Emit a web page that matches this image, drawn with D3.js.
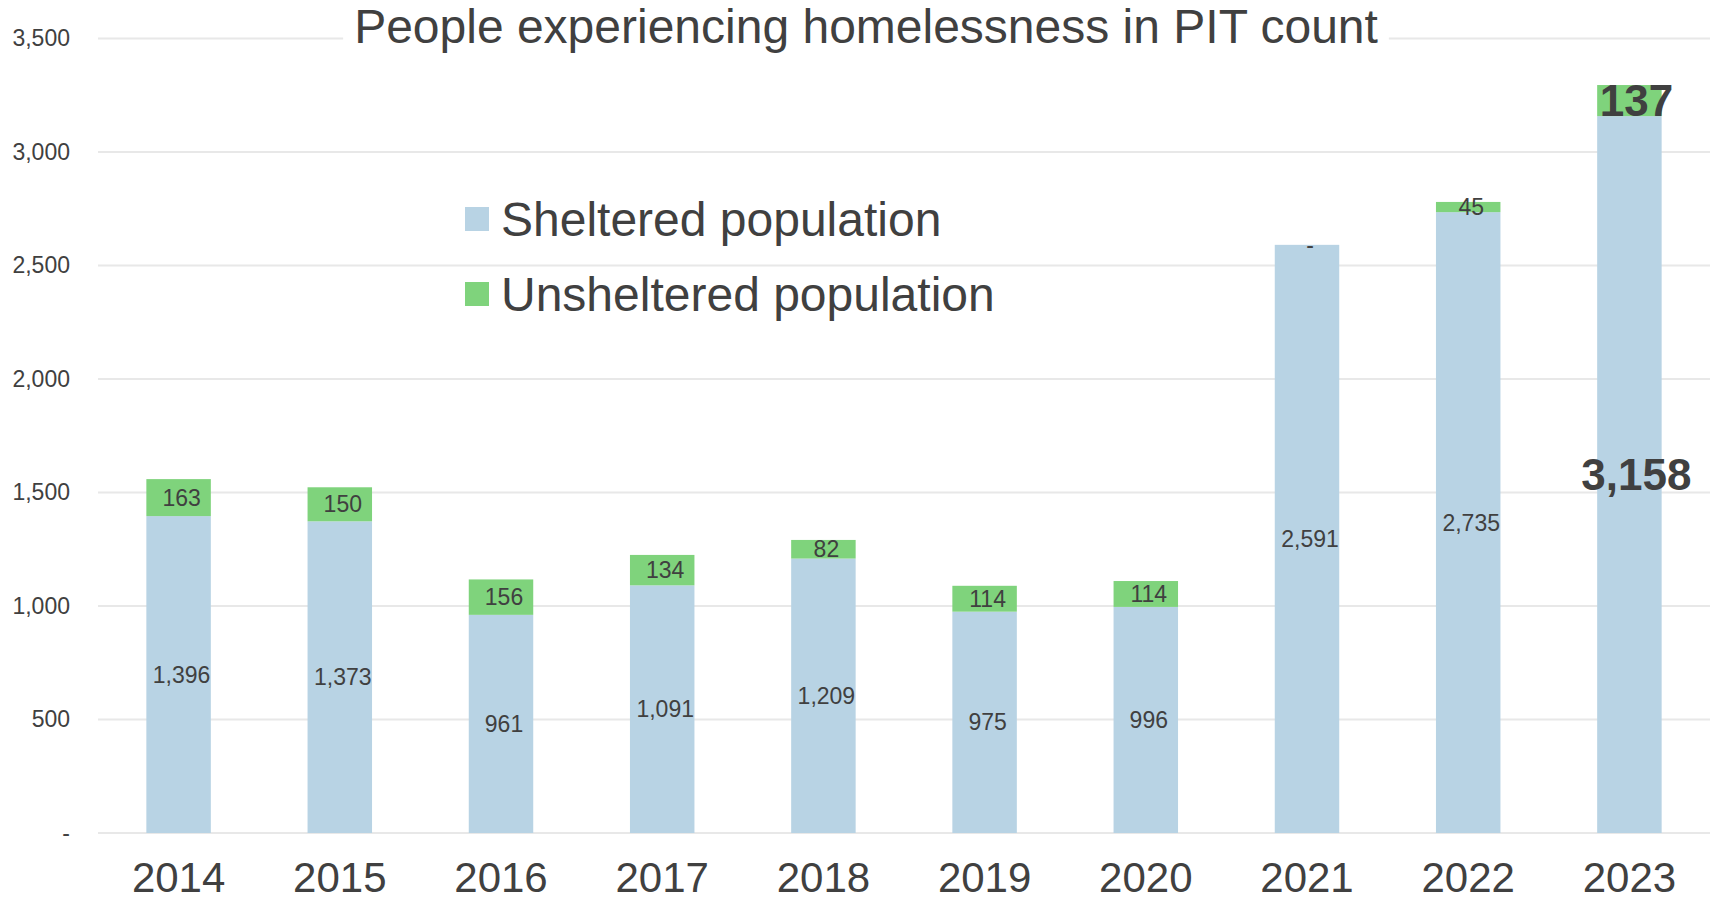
<!DOCTYPE html>
<html>
<head>
<meta charset="utf-8">
<script src="https://cdn.jsdelivr.net/npm/d3@7"></script>
<style>
  html, body { margin: 0; padding: 0; background: #fff; }
  svg { display: block; font-family: "Liberation Sans", Arial, sans-serif; }
</style>
</head>
<body>
<svg id="chart" width="1715" height="901"></svg>
<script>
const years = ["2014","2015","2016","2017","2018","2019","2020","2021","2022","2023"];
const sheltered = [1396, 1373, 961, 1091, 1209, 975, 996, 2591, 2735, 3158];
const unsheltered = [163, 150, 156, 134, 82, 114, 114, 0, 45, 137];
const yTicks = [0, 500, 1000, 1500, 2000, 2500, 3000, 3500];
const seriesNames = ["Sheltered population", "Unsheltered population"];
const title = "People experiencing homelessness in PIT count";

(function () {
const colors = ["#b8d3e4", "#7fd37c"];
const textColor = "#404040";

const svg = d3.select("#chart");
const mLeft = 98, mRight = 1710, mTop = 38.5, mBottom = 833;

const x = d3.scaleBand().domain(years).range([mLeft, mRight]).paddingInner(0.6).paddingOuter(0.3);
const y = d3.scaleLinear().domain([0, 3500]).range([mBottom, mTop]);
const fmt = v => v === 0 ? "-" : d3.format(",")(v);

// gridlines
svg.append("g").selectAll("line").data(yTicks).join("line")
  .attr("x1", mLeft).attr("x2", mRight)
  .attr("y1", d => y(d)).attr("y2", d => y(d))
  .attr("stroke", "#e8e8e8").attr("stroke-width", 2);

// y axis labels
const yAxis = d3.axisLeft(y).tickValues(yTicks).tickFormat(fmt).tickSize(0).tickPadding(0);
const yg = svg.append("g").attr("transform", `translate(70,0)`).call(yAxis);
yg.select(".domain").remove();
yg.selectAll("text").attr("font-size", 23).attr("fill", textColor)
  .attr("font-family", "Liberation Sans, Arial, sans-serif");

// data
const data = years.map((yr, i) => ({ year: yr, sheltered: sheltered[i], unsheltered: unsheltered[i] }));
const layers = d3.stack().keys(["sheltered", "unsheltered"])(data);

const g = svg.append("g");
layers.forEach((layer, li) => {
  g.append("g").selectAll("rect").data(layer).join("rect")
    .attr("x", d => x(d.data.year))
    .attr("width", x.bandwidth())
    .attr("y", d => y(d[1]))
    .attr("height", d => y(d[0]) - y(d[1]))
    .attr("fill", colors[li]);
});

// labels
const isLast = d => d.data.year === years[years.length - 1];
layers.forEach((layer, li) => {
  g.append("g").selectAll("text").data(layer).join("text")
    .attr("x", d => x(d.data.year) + x.bandwidth() / 2 + (isLast(d) ? 7 : 3))
    .attr("y", d => (y(d[0]) + y(d[1])) / 2)
    .attr("dy", "0.35em")
    .attr("text-anchor", "middle")
    .attr("fill", textColor)
    .attr("font-size", d => isLast(d) ? 44 : 23)
    .attr("font-weight", d => isLast(d) ? "bold" : "normal")
    .text(d => fmt(d[1] - d[0]));
});

// x axis labels
const xAxis = d3.axisBottom(x).tickSize(0).tickPadding(0);
const xg = svg.append("g").attr("transform", `translate(0,${mBottom})`).call(xAxis);
xg.select(".domain").remove();
xg.selectAll("text").attr("font-size", 42).attr("fill", textColor)
  .attr("font-family", "Liberation Sans, Arial, sans-serif")
  .attr("dy", null).attr("y", 59);

// title with white background
const tg = svg.append("g");
const tbg = tg.append("rect").attr("fill", "#fff");
const tt = tg.append("text")
  .attr("x", (356 + 1376) / 2).attr("y", 43)
  .attr("text-anchor", "middle")
  .attr("font-size", 48).attr("fill", textColor)
  .text(title);
const bb = tt.node().getBBox();
tbg.attr("x", bb.x - 11).attr("y", 20).attr("width", bb.width + 22).attr("height", 30);

// legend
const lg = svg.append("g").attr("transform", "translate(465,0)");
const legendRows = [219, 294];
seriesNames.forEach((name, i) => {
  lg.append("rect").attr("x", 0).attr("y", legendRows[i] - 12).attr("width", 24).attr("height", 24)
    .attr("fill", colors[i]);
  lg.append("text").attr("x", 36).attr("y", legendRows[i]).attr("dy", "0.35em")
    .attr("font-size", 48).attr("fill", textColor).text(name);
});
})();
</script>
</body>
</html>
